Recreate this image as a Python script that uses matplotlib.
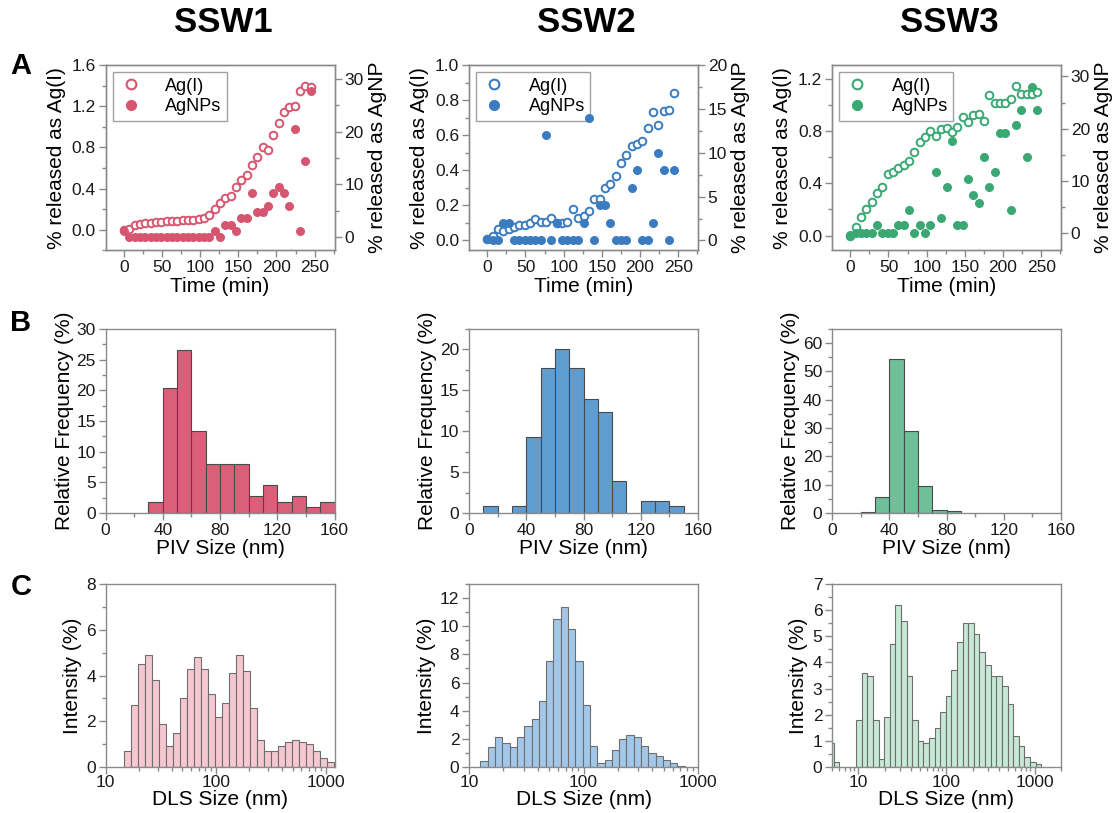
import numpy as np
import matplotlib
matplotlib.use("Agg")
import matplotlib.pyplot as plt
from matplotlib.ticker import MultipleLocator, LogLocator, FixedLocator, FixedFormatter, NullFormatter
from matplotlib.lines import Line2D

plt.rcParams['font.family'] = ['Liberation Sans', 'DejaVu Sans']

# ---- data ----
# sampling times (min)
time_min = [0, 7, 14, 21, 28, 35, 42, 49, 56, 63, 70, 77, 84, 91, 98, 105, 112, 119,
            126, 133, 140, 147, 154, 161, 168, 175, 182, 189, 196, 203, 210, 217, 224, 231, 238, 245]

# % released as Ag(I)
ssw1_ag = [0.00, 0.01, 0.045, 0.055, 0.065, 0.07, 0.075, 0.08, 0.085, 0.09, 0.09, 0.095,
           0.095, 0.10, 0.105, 0.12, 0.14, 0.20, 0.26, 0.31, 0.33, 0.415, 0.48, 0.535,
           0.63, 0.71, 0.80, 0.775, 0.925, 1.04, 1.14, 1.19, 1.20, 1.35, 1.40, 1.385]
ssw2_ag = [0.006, 0.025, 0.067, 0.053, 0.067, 0.078, 0.087, 0.087, 0.097, 0.12, 0.105, 0.105,
           0.13, 0.10, 0.10, 0.105, 0.18, 0.13, 0.14, 0.17, 0.235, 0.235, 0.30, 0.32,
           0.37, 0.44, 0.49, 0.54, 0.55, 0.565, 0.64, 0.73, 0.66, 0.74, 0.745, 0.84]
ssw3_ag = [0.0, 0.066, 0.14, 0.20, 0.26, 0.33, 0.37, 0.47, 0.485, 0.52, 0.54, 0.575,
           0.645, 0.72, 0.76, 0.80, 0.766, 0.817, 0.827, 0.797, 0.837, 0.91, 0.87, 0.924,
           0.93, 0.88, 1.08, 1.02, 1.02, 1.02, 1.05, 1.15, 1.09, 1.085, 1.085, 1.10]

# % released as AgNP
ssw1_np = [1.2, 0, 0, 0, 0, 0, 0, 0, 0, 0, 0, 0, 0, 0, 0, 0, 0, 1.1,
           0, 2.4, 2.4, 1.1, 3.6, 3.6, 8.4, 4.8, 4.8, 6.0, 8.4, 9.6, 8.4, 6.0, 20.4, 1.2, 14.4, 27.7]
ssw2_np = [0.2, 0, 0, 2, 2, 0, 0, 0, 0, 0, 0, 12, 0, 2, 0, 0, 0, 0,
           2, 14, 0, 4, 4, 2, 0, 0, 0, 6, 8, 0, 0, 2, 10, 8, 0, 8]
ssw3_np = [-0.4, 0, 0, 0, 0, 1.4, 0, 0, 0, 1.4, 1.4, 4.3, 0, 1.4, 0, 1.4, 11.7, 2.9,
           8.8, 17.6, 1.4, 1.4, 10.3, 7.3, 5.7, 14.6, 8.8, 11.7, 19.1, 19.1, 4.3, 20.6, 23.6, 14.6, 28.0, 23.6]

# PIV size histograms (bin left edge, nm; width 10 nm)
piv_bins = [10, 20, 30, 40, 50, 60, 70, 80, 90, 100, 110, 120, 130, 140, 150]
ssw1_piv = [0, 0, 1.8, 20.3, 26.5, 13.3, 8.0, 8.0, 8.0, 2.7, 4.5, 1.8, 2.7, 0.9, 1.8]
ssw2_piv = [0.8, 0, 0.8, 9.3, 17.7, 20.0, 17.7, 13.9, 12.3, 3.9, 0, 1.5, 1.5, 0.8, 0]
ssw3_piv = [0, 0.5, 5.5, 54.3, 28.8, 9.4, 1.2, 0.6, 0, 0, 0, 0, 0, 0, 0]

# DLS size classes (nm) and intensity (%)
dls_size = [4.849, 5.615, 6.503, 7.531, 8.721, 10.1, 11.7, 13.54, 15.69, 18.17, 21.04, 24.36,
            28.21, 32.67, 37.84, 43.82, 50.75, 58.77, 68.06, 78.82, 91.28, 105.7, 122.4, 141.8,
            164.2, 190.1, 220.2, 255.0, 295.3, 342.0, 396.1, 458.7, 531.2, 615.1, 712.4, 825.0,
            955.4, 1106]
ssw1_dls = [0, 0, 0, 0, 0, 0, 0, 0,
            0.7, 2.7, 4.5, 4.9, 3.8, 1.9, 0.9, 1.5, 3.0, 4.3, 4.8, 4.3, 3.2, 2.2, 2.8, 4.1,
            4.9, 4.2, 2.6, 1.2, 0.7, 0.7, 0.9, 1.1, 1.2, 1.1, 1.0, 0.7, 0.4, 0.2]
ssw2_dls = [0, 0, 0, 0, 0, 0, 0,
            0.4, 1.4, 2.1, 1.7, 1.4, 2.1, 2.9, 3.4, 4.7, 7.5, 10.5, 11.4, 9.8, 7.5, 4.4, 1.5,
            0.3, 0.5, 1.2, 2.0, 2.3, 2.1, 1.5, 1.0, 0.8, 0.5, 0.3, 0.1, 0, 0, 0]
ssw3_dls = [0.9, 0.2, 0, 0, 0, 1.8, 3.6, 3.5, 1.8, 0.3, 1.9, 4.7, 6.2, 5.6, 3.5, 1.8, 1.0,
            0.9, 1.1, 1.5, 2.1, 2.7, 3.7, 4.8, 5.5, 5.5, 5.1, 4.4, 3.9, 3.5, 3.5, 3.1, 2.4,
            1.2, 0.8, 0.4, 0.2, 0.1]

titles = ["SSW1", "SSW2", "SSW3"]
dark = ["#d6566f", "#3a7cbf", "#3aa873"]
mid = ["#da6079", "#5f9dd1", "#6fbf98"]
light = ["#f5c7d1", "#a2c7e8", "#c6e8d5"]

# ---- layout ----
W, H = 1114, 813
fig = plt.figure(figsize=(W / 100, H / 100), dpi=100)
col_left = [105.5, 469, 832]
ax_w = 229
row_top = [65, 329, 584]
row_h = [185.5, 184, 183]

def make_ax(col, row):
    l = col_left[col] / W
    b = 1 - (row_top[row] + row_h[row]) / H
    return fig.add_axes([l, b, ax_w / W, row_h[row] / H])

GRAY = "#8a8a8a"

def style(ax):
    for sp in ax.spines.values():
        sp.set_color(GRAY)
        sp.set_linewidth(1.0)
    ax.tick_params(which='both', direction='out', color=GRAY, labelsize=12.5,
                   labelcolor='#1a1a1a', width=1)
    ax.tick_params(which='major', length=5, pad=2)
    ax.tick_params(which='minor', length=3)

# ---- row A: release kinetics ----
ag_sets = [ssw1_ag, ssw2_ag, ssw3_ag]
np_sets = [ssw1_np, ssw2_np, ssw3_np]
left_lim = [(-0.2, 1.6), (-0.057, 1.0), (-0.115, 1.31)]
right_lim = [(-2.5, 32.6), (-1.14, 20), (-3.4, 32.2)]
left_step = [0.4, 0.2, 0.4]
right_step = [10, 5, 10]

for i in range(3):
    ax = make_ax(i, 0)
    ax2 = ax.twinx()
    ax.scatter(time_min, ag_sets[i], s=30, facecolors='white', edgecolors=dark[i],
               linewidths=1.4, zorder=3)
    ax2.scatter(time_min, np_sets[i], s=30, color=dark[i], zorder=3)
    ax.set_xlim(-24, 276)
    ax.set_ylim(*left_lim[i])
    ax2.set_ylim(*right_lim[i])
    ax.xaxis.set_major_locator(MultipleLocator(50))
    ax.xaxis.set_minor_locator(MultipleLocator(25))
    ax.yaxis.set_major_locator(MultipleLocator(left_step[i]))
    ax.yaxis.set_minor_locator(MultipleLocator(left_step[i] / 2))
    ax2.yaxis.set_major_locator(MultipleLocator(right_step[i]))
    ax2.yaxis.set_minor_locator(MultipleLocator(right_step[i] / 2))
    ax.yaxis.set_major_formatter(plt.FormatStrFormatter('%.1f'))
    style(ax)
    style(ax2)
    ax.set_xlabel("Time (min)", fontsize=15, labelpad=1)
    ax.set_ylabel("% released as Ag(I)", fontsize=15, labelpad=4)
    ax2.set_ylabel("% released as AgNP", fontsize=15, labelpad=3)
    handles = [Line2D([], [], ls='none', marker='o', ms=7, mfc='white', mec=dark[i], mew=1.5),
               Line2D([], [], ls='none', marker='o', ms=7, color=dark[i])]
    leg = ax.legend(handles, ["Ag(I)", "AgNPs"], loc='upper left', fontsize=13,
                    frameon=True, fancybox=False, borderaxespad=0.4, handletextpad=1.2,
                    handlelength=1.4, borderpad=0.3, labelspacing=0.2)
    leg.get_frame().set_edgecolor(GRAY)
    leg.get_frame().set_linewidth(1.0)
    leg.set_zorder(5)
    fig.text((col_left[i] + ax_w / 2 + 3) / W, 1 - 22 / H, titles[i], fontsize=25,
             fontweight='bold', ha='center', va='center')

# ---- row B: PIV size ----
piv_sets = [ssw1_piv, ssw2_piv, ssw3_piv]
piv_ylim = [(0, 30), (0, 22.5), (0, 65)]
piv_step = [5, 5, 10]
for i in range(3):
    ax = make_ax(i, 1)
    x = [b for b, v in zip(piv_bins, piv_sets[i]) if v > 0]
    y = [v for v in piv_sets[i] if v > 0]
    ax.bar(x, y, width=10, align='edge', color=mid[i], edgecolor='#4a4a4a', linewidth=0.8)
    ax.set_xlim(0, 160)
    ax.set_ylim(*piv_ylim[i])
    ax.xaxis.set_major_locator(MultipleLocator(40))
    ax.xaxis.set_minor_locator(MultipleLocator(20))
    ax.yaxis.set_major_locator(MultipleLocator(piv_step[i]))
    ax.yaxis.set_minor_locator(MultipleLocator(piv_step[i] / 2))
    style(ax)
    ax.set_xlabel("PIV Size (nm)", fontsize=15, labelpad=1)
    ax.set_ylabel("Relative Frequency (%)", fontsize=15, labelpad=2)

# ---- row C: DLS size ----
dls_sets = [ssw1_dls, ssw2_dls, ssw3_dls]
dls_xlim = [(10, 1200), (10, 1000), (5, 2000)]
dls_ylim = [(0, 8), (0, 13), (0, 7)]
dls_step = [2, 2, 1]
half = np.sqrt(1.158)
for i in range(3):
    ax = make_ax(i, 2)
    s = np.array(dls_size)
    v = np.array(dls_sets[i])
    keep = v > 0
    lefts = s[keep] / half
    widths = s[keep] * half - lefts
    ax.bar(lefts, v[keep], width=widths, align='edge', color=light[i],
           edgecolor='#6e6e6e', linewidth=0.8)
    ax.set_xscale('log')
    ax.set_xlim(*dls_xlim[i])
    ax.set_ylim(*dls_ylim[i])
    ax.xaxis.set_major_locator(FixedLocator([10, 100, 1000]))
    ax.xaxis.set_major_formatter(FixedFormatter(["10", "100", "1000"]))
    ax.xaxis.set_minor_locator(LogLocator(base=10, subs=np.arange(2, 10)))
    ax.xaxis.set_minor_formatter(NullFormatter())
    ax.yaxis.set_major_locator(MultipleLocator(dls_step[i]))
    ax.yaxis.set_minor_locator(MultipleLocator(dls_step[i] / 2))
    style(ax)
    ax.tick_params(axis='x', which='major', pad=1)
    ax.set_xlabel("DLS Size (nm)", fontsize=15, labelpad=0)
    ax.set_ylabel("Intensity (%)", fontsize=15, labelpad=3)

# panel letters
for letter, ytop in zip("ABC", [66, 323, 587]):
    fig.text(21 / W, 1 - ytop / H, letter, fontsize=21, fontweight='bold',
             ha='center', va='center')

fig.savefig("out.png", dpi=100)
